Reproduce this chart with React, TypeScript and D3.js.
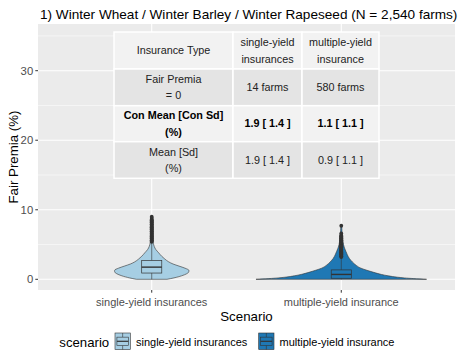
import React from "react";
import * as d3 from "d3";

// ---------- data ----------
const title = "1) Winter Wheat / Winter Barley / Winter Rapeseed (N = 2,540 farms)";
const categories = ["single-yield insurances", "multiple-yield insurance"];
const fills = ["#A6CEE3", "#1F78B4"];
const yTicks = [0, 10, 20, 30];
const yMinorTicks = [5, 15, 25, 35];

// violin profiles: value (%) and relative density (1 = widest violin)
const singleValues = [0, 0.2, 0.5, 0.8, 1.1, 1.3, 1.6, 1.9, 2.2, 2.5, 2.9, 3.3, 3.8, 4.3, 4.7, 5.2, 6.0, 7.0, 8.0, 9.0];
const singleDensity = [0.18, 0.26, 0.35, 0.41, 0.435, 0.435, 0.39, 0.32, 0.25, 0.2, 0.155, 0.118, 0.082, 0.047, 0.03, 0.019, 0.013, 0.01, 0.008, 0.006];
const multipleValues = [0, 0.1, 0.2, 0.3, 0.5, 0.7, 1.0, 1.3, 1.6, 2.0, 2.5, 3.0, 3.5, 4.0, 4.5, 5.0, 5.5, 6.0, 6.5, 7.0, 7.7];
const multipleDensity = [1.0, 0.85, 0.74, 0.66, 0.55, 0.47, 0.38, 0.3, 0.23, 0.176, 0.13, 0.095, 0.072, 0.055, 0.038, 0.026, 0.019, 0.014, 0.011, 0.008, 0.005];

// boxplot stats: [lower whisker, q1, median, q3, upper whisker]
const singleBox = [0, 0.9, 1.75, 2.7, 5.3];
const multipleBox = [0, 0.15, 0.7, 1.35, 3.1];
const singleOutliers = [5.4, 5.5, 5.6, 5.7, 5.8, 5.9, 6.0, 6.1, 6.2, 6.3, 6.4, 6.5, 6.6, 6.7, 6.8, 6.9, 7.0, 7.1, 7.2, 7.3, 7.4, 7.5, 7.6, 7.7, 7.8, 7.9, 8.0, 8.1, 8.2, 8.3, 8.4, 8.5, 8.6, 8.8, 9.0];
const multipleOutliers = [3.2, 3.3, 3.4, 3.5, 3.6, 3.7, 3.8, 3.9, 4.0, 4.1, 4.2, 4.3, 4.4, 4.5, 4.6, 4.7, 4.8, 4.9, 5.0, 5.1, 5.2, 5.3, 5.4, 5.5, 5.6, 5.7, 5.8, 5.9, 6.0, 6.1, 6.2, 6.3, 6.6, 7.7];

// table
const tableRows: { cells: string[][]; bold: boolean }[] = [
  { cells: [["Insurance Type"], ["single-yield", "insurances"], ["multiple-yield", "insurance"]], bold: false },
  { cells: [["Fair Premia", "= 0"], ["14 farms"], ["580 farms"]], bold: false },
  { cells: [["Con Mean [Con Sd]", "(%)"], ["1.9 [ 1.4 ]"], ["1.1 [ 1.1 ]"]], bold: true },
  { cells: [["Mean [Sd]", "(%)"], ["1.9 [ 1.4 ]"], ["0.9 [ 1.1 ]"]], bold: false },
];

// ---------- layout ----------
const W = 461, H = 355;
const panel = { left: 38, right: 455, top: 24, bottom: 290 };
const colEdges = [114, 233, 302, 379];
const rowEdges = [32, 69, 105.7, 141.7, 178.3];
const FONT = "'Liberation Sans', Arial, sans-serif";

export default function App() {
  const x = d3.scalePoint<string>().domain(categories).range([panel.left, panel.right]).padding(0.6);
  const step = x.step();
  const y = d3.scaleLinear().domain([0, 30]).range([279.3, 70.7]);
  const wScale = d3.scaleLinear().domain([0, 1]).range([0, 0.45 * step]);
  const boxHalf = 0.053 * step;

  const groups = [
    { cat: categories[0], values: singleValues, dens: singleDensity, box: singleBox, out: singleOutliers, fill: fills[0] },
    { cat: categories[1], values: multipleValues, dens: multipleDensity, box: multipleBox, out: multipleOutliers, fill: fills[1] },
  ];

  const legendItems = [
    { label: categories[0], fill: fills[0], kx: 115, tx: 136 },
    { label: categories[1], fill: fills[1], kx: 258.7, tx: 279.5 },
  ];

  return (
    <svg width={W} height={H} style={{ position: "absolute", left: 0, top: 0, background: "#fff" }} fontFamily={FONT}>
      <rect x={0} y={0} width={W} height={H} fill="#fff" />
      <text x={panel.left + 2} y={19} fontSize={13.6} fill="#000">{title}</text>

      {/* panel */}
      <rect x={panel.left} y={panel.top} width={panel.right - panel.left} height={panel.bottom - panel.top} fill="#EBEBEB" />
      {yMinorTicks.map((t) => (
        <line key={"mi" + t} x1={panel.left} x2={panel.right} y1={y(t)} y2={y(t)} stroke="#fff" strokeWidth={0.55} />
      ))}
      {yTicks.map((t) => (
        <line key={"ma" + t} x1={panel.left} x2={panel.right} y1={y(t)} y2={y(t)} stroke="#fff" strokeWidth={1.1} />
      ))}
      {categories.map((c) => (
        <line key={"vx" + c} x1={x(c)} x2={x(c)} y1={panel.top} y2={panel.bottom} stroke="#fff" strokeWidth={1.1} />
      ))}

      {/* violins + boxplots */}
      {groups.map((g) => {
        const cx = x(g.cat) as number;
        const pts = g.values.map((v, i) => ({ v, d: g.dens[i] }));
        const area = d3
          .area<{ v: number; d: number }>()
          .x0((p) => cx - wScale(p.d))
          .x1((p) => cx + wScale(p.d))
          .y((p) => y(p.v))
          .curve(d3.curveMonotoneY);
        const [lo, q1, med, q3, hi] = g.box;
        return (
          <g key={g.cat}>
            <path d={area(pts) || ""} fill={g.fill} stroke="#333" strokeWidth={0.6} />
            <line x1={cx} x2={cx} y1={y(q3)} y2={y(hi)} stroke="#333" strokeWidth={0.6} />
            <line x1={cx} x2={cx} y1={y(q1)} y2={y(lo)} stroke="#333" strokeWidth={0.6} />
            <rect x={cx - boxHalf} y={y(q3)} width={2 * boxHalf} height={y(q1) - y(q3)} fill={g.fill} stroke="#333" strokeWidth={0.7} />
            <line x1={cx - boxHalf} x2={cx + boxHalf} y1={y(med)} y2={y(med)} stroke="#333" strokeWidth={1.4} />
            {g.out.map((o, i) => (
              <circle key={i} cx={cx} cy={y(o)} r={1.9} fill="#333" />
            ))}
          </g>
        );
      })}

      {/* table */}
      {tableRows.map((row, ri) => (
        <g key={"row" + ri}>
          {row.cells.map((lines, ci) => {
            const x0 = colEdges[ci], x1 = colEdges[ci + 1];
            const y0 = rowEdges[ri], y1 = rowEdges[ri + 1];
            const cxm = (x0 + x1) / 2, cym = (y0 + y1) / 2;
            const lh = 16.5;
            return (
              <g key={ci}>
                <rect x={x0} y={y0} width={x1 - x0} height={y1 - y0} fill={ri % 2 === 0 ? "#F2F2F2" : "#E4E4E4"} stroke="#fff" strokeWidth={1.5} />
                {lines.map((l, li) => (
                  <text
                    key={li}
                    x={cxm}
                    y={cym + (li - (lines.length - 1) / 2) * lh}
                    dy="0.35em"
                    textAnchor="middle"
                    fontSize={10.8}
                    fontWeight={row.bold ? "bold" : "normal"}
                    fill={row.bold ? "#000" : "#222"}
                  >
                    {l}
                  </text>
                ))}
              </g>
            );
          })}
        </g>
      ))}

      {/* y axis */}
      {yTicks.map((t) => (
        <g key={"yt" + t}>
          <line x1={panel.left - 2.7} x2={panel.left} y1={y(t)} y2={y(t)} stroke="#333" strokeWidth={1} />
          <text x={panel.left - 4.8} y={y(t)} dy="0.35em" textAnchor="end" fontSize={11.3} fill="#4D4D4D">{t}</text>
        </g>
      ))}
      <text transform={`translate(13,${(panel.top + panel.bottom) / 2}) rotate(-90)`} dy="0.35em" textAnchor="middle" fontSize={13.3} fill="#000">
        Fair Premia (%)
      </text>

      {/* x axis */}
      {categories.map((c) => (
        <g key={"xt" + c}>
          <line x1={x(c)} x2={x(c)} y1={panel.bottom} y2={panel.bottom + 2.7} stroke="#333" strokeWidth={1} />
          <text x={x(c)} y={302.3} dy="0.35em" textAnchor="middle" fontSize={11} fill="#4D4D4D">{c}</text>
        </g>
      ))}
      <text x={(panel.left + panel.right) / 2} y={316.5} dy="0.35em" textAnchor="middle" fontSize={13.3} fill="#000">Scenario</text>

      {/* legend */}
      <text x={59.3} y={342.3} dy="0.35em" fontSize={13.2} fill="#000">scenario</text>
      {legendItems.map((it) => {
        const ky = 333, kw = 15.3, kh = 16.6;
        const kcx = it.kx + kw / 2;
        return (
          <g key={it.label}>
            <rect x={it.kx} y={ky} width={kw} height={kh} fill={it.fill} stroke="#333" strokeWidth={0.6} />
            <line x1={kcx} x2={kcx} y1={ky} y2={ky + kh * 0.25} stroke="#333" strokeWidth={0.6} />
            <line x1={kcx} x2={kcx} y1={ky + kh * 0.75} y2={ky + kh} stroke="#333" strokeWidth={0.6} />
            <rect x={it.kx + kw * 0.125} y={ky + kh * 0.25} width={kw * 0.75} height={kh * 0.5} fill={it.fill} stroke="#333" strokeWidth={0.6} />
            <line x1={it.kx + kw * 0.125} x2={it.kx + kw * 0.875} y1={ky + kh / 2} y2={ky + kh / 2} stroke="#333" strokeWidth={1.2} />
            <text x={it.tx} y={342.3} dy="0.35em" fontSize={11} fill="#000">{it.label}</text>
          </g>
        );
      })}
    </svg>
  );
}
